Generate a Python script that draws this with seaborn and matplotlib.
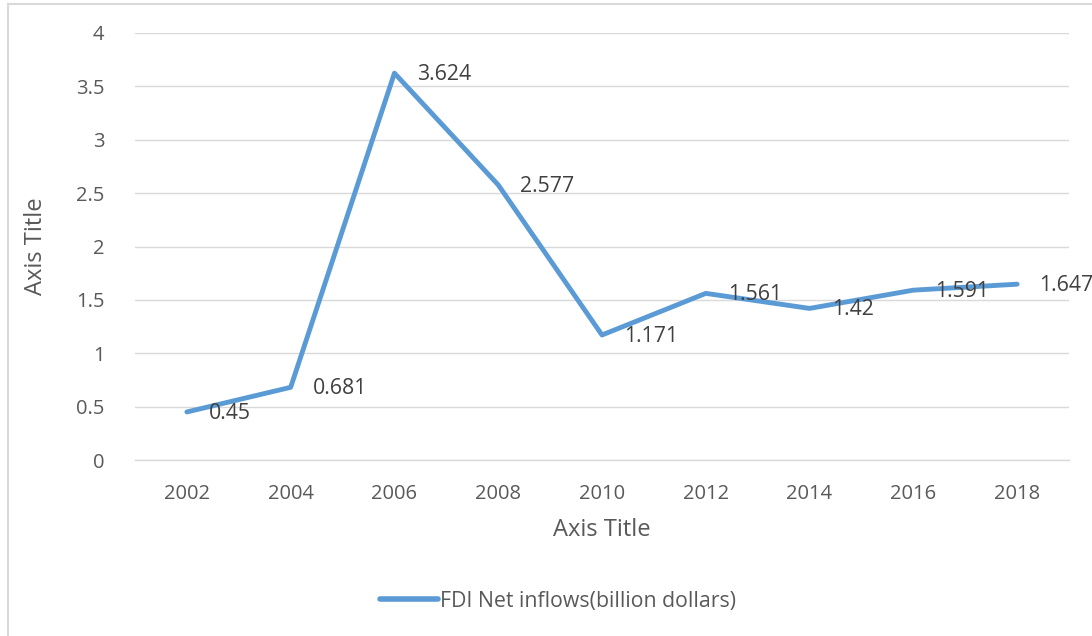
import matplotlib
matplotlib.use("Agg")
import matplotlib.pyplot as plt
import seaborn as sns
import pandas as pd
from matplotlib.patches import Rectangle

years = ["2002", "2004", "2006", "2008", "2010", "2012", "2014", "2016", "2018"]
values = [0.45, 0.681, 3.624, 2.577, 1.171, 1.561, 1.42, 1.591, 1.647]
value_labels = ["0.45", "0.681", "3.624", "2.577", "1.171", "1.561", "1.42", "1.591", "1.647"]
series_name = "FDI Net inflows(billion dollars)"

df = pd.DataFrame({"year": years, "value": values})
df["pos"] = range(len(years))

sns.set_theme(style="white")
plt.rcParams["font.family"] = ["Open Sans", "DejaVu Sans"]

text_color = "#595959"
line_color = "#5B9BD5"

fig = plt.figure(figsize=(10.92, 6.36), dpi=100)
ax = fig.add_axes([135 / 1092, 1 - 460 / 636, (1069 - 135) / 1092, (460 - 33) / 636])

sns.lineplot(data=df, x="pos", y="value", ax=ax, color=line_color, linewidth=3.5,
             label=series_name, solid_capstyle="round", solid_joinstyle="round")

ax.set_xlim(-0.5, len(years) - 0.5)
ax.set_ylim(0, 4)
ax.set_xticks(range(len(years)))
ax.set_xticklabels(years)
ax.set_yticks([0, 0.5, 1, 1.5, 2, 2.5, 3, 3.5, 4])
ax.set_yticklabels(["0", "0.5", "1", "1.5", "2", "2.5", "3", "3.5", "4"])
ax.yaxis.grid(True, color="#D9D9D9", linewidth=1)
ax.xaxis.grid(False)
for s in ["top", "right", "left"]:
    ax.spines[s].set_visible(False)
ax.spines["bottom"].set_color("#D9D9D9")
ax.spines["bottom"].set_linewidth(1)
ax.tick_params(axis="both", colors=text_color, labelsize=14.5, length=0)
ax.tick_params(axis="x", pad=17)
ax.tick_params(axis="y", pad=22)
ax.set_xlabel("Axis Title", fontsize=17, color=text_color, labelpad=10)
ax.set_ylabel("Axis Title", fontsize=17, color=text_color, labelpad=20)

for i, (v, lab) in enumerate(zip(values, value_labels)):
    ax.annotate(lab, (i, v), xytext=(16, -1), textcoords="offset points",
                ha="left", va="center", fontsize=15.3, color="#404040")

leg = fig.legend(*ax.get_legend_handles_labels(), loc="center",
                 bbox_to_anchor=(558 / 1092, 1 - 601 / 636),
                 frameon=False, fontsize=15.3, handlelength=2.7, handletextpad=0.1)
ax.get_legend().remove()
for t in leg.get_texts():
    t.set_color(text_color)
for h in leg.legend_handles:
    h.set_linewidth(4)

fig.patches.append(Rectangle((8 / 1092, -0.05), 1.1, 1.05 - 4 / 636, transform=fig.transFigure,
                             fill=False, edgecolor="#D9D9D9", linewidth=1.5))

fig.savefig("out.png", dpi=100)
